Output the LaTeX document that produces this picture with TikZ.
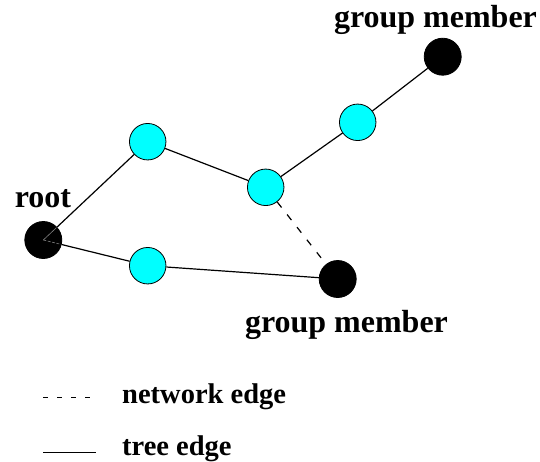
\documentclass[tikz,border=0pt]{standalone}
\usepackage{fontspec}
\setmainfont{Liberation Serif}
\definecolor{relaycyan}{RGB}{0,255,255}
\begin{document}
\begin{tikzpicture}[x=1pt,y=-1pt,
  member/.style={circle,fill=black,draw=black,line width=0.8pt,minimum size=37pt,inner sep=0pt},
  relay/.style={circle,fill=relaycyan,draw=black,line width=0.8pt,minimum size=36.5pt,inner sep=0pt},
  treeedge/.style={line width=1.2pt},
  netedge/.style={line width=1.2pt,dash pattern=on 7pt off 9pt},
  legdash/.style={line width=1pt,dash pattern=on 5pt off 9pt},
  lbl/.style={font=\fontsize{32}{36}\selectfont\bfseries,inner sep=0pt,anchor=base},
  leg/.style={font=\fontsize{28.5}{32}\selectfont\bfseries,inner sep=0pt,anchor=base west}]
\useasboundingbox (0,0) rectangle (540,461);
% nodes
\node[member] (root) at (43.3,240) {};
\node[relay] (A) at (147.7,141.7) {};
\node[relay] (B) at (265.7,187.3) {};
\node[relay] (C) at (357.7,122.3) {};
\node[member] (top) at (442.7,56.7) {};
\node[relay] (D) at (147.7,265.7) {};
\node[member] (bot) at (337.7,279) {};
% edges
\draw[treeedge] (root) -- (A);
\draw[treeedge] (A) -- (B);
\draw[treeedge] (B) -- (C);
\draw[treeedge] (C) -- (top);
\draw[treeedge] (root) -- (D);
\draw[treeedge] (D) -- (bot);
\draw[netedge] (B) -- (bot);
\begin{scope}
\clip (root.center) circle (18pt);
\draw[gray,line width=0.6pt] (root.center) -- (A.center);
\draw[gray,line width=0.6pt,dash pattern=on 3pt off 1.5pt] (root.center) -- (D.center);
\end{scope}
% labels
\node[lbl] (lroot) at (43,207) {root};
\node[lbl] (ltop) at (435.5,27) {group member};
\node[lbl] (lbot) at (346.5,332) {group member};
% legend
\coordinate (n1) at (43,397.5);
\coordinate (n2) at (96,397.5);
\coordinate (t1) at (43,452);
\coordinate (t2) at (96,452);
\draw[legdash] (n1) -- (n2);
\draw[line width=1pt] (t1) -- (t2);
\node[leg] (lnet) at (122,403) {network edge};
\node[leg] (ltree) at (122,455) {tree edge};
\end{tikzpicture}
\end{document}
